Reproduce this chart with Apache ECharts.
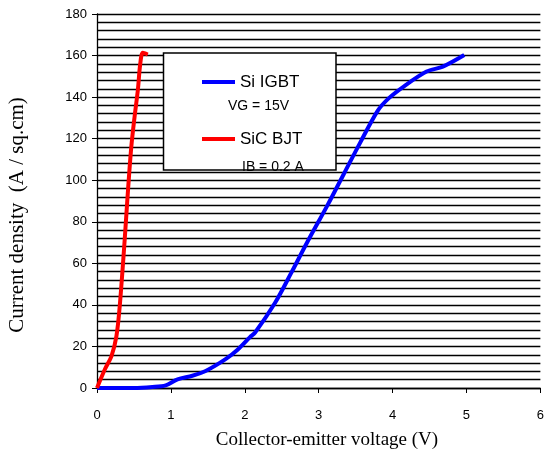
<!DOCTYPE html>
<html>
<head>
<meta charset="utf-8">
<script src="https://cdn.jsdelivr.net/npm/echarts@6/dist/echarts.min.js"></script>
<style>html,body{margin:0;padding:0;background:#fff;}#c{width:547px;height:459px;}</style>
</head>
<body>
<div id="c"></div>
<script>
// Data
const siIgbtX = [0, 0.5, 0.75, 0.93, 1.09, 1.29, 1.47, 1.74, 1.91, 2.07, 2.14, 2.41, 2.63, 2.85, 3.12, 3.34, 3.56, 3.8, 3.95, 4.15, 4.46, 4.68, 4.97];
const siIgbtY = [0, 0, 0.5, 1.3, 4.2, 5.9, 8.2, 13.9, 18.7, 24.5, 26.7, 41, 55.5, 70.5, 88, 103, 118, 133.5, 139.5, 145.1, 152.3, 154.7, 160.3];
const sicBjtX = [0, 0.107, 0.197, 0.263, 0.308, 0.375, 0.42, 0.464, 0.509, 0.553, 0.585, 0.62, 0.687];
const sicBjtY = [0, 9, 15.5, 25, 39.5, 71.5, 95.5, 116, 130.7, 143.5, 156, 161.3, 160.5];
const xTicks = [0, 1, 2, 3, 4, 5, 6];
const yTicks = [0, 20, 40, 60, 80, 100, 120, 140, 160, 180];
const seriesNames = ['Si IGBT', 'SiC BJT'];
const seriesNotes = ['VG = 15V', 'IB = 0.2 A'];
const xTitle = 'Collector-emitter voltage (V)';
const yTitle = 'Current density  (A / sq.cm)';

const zip = (xs, ys) => xs.map((x, i) => [x, ys[i]]);
const chart = echarts.init(document.getElementById('c'), null, {renderer: 'canvas'});
const sans = 'Liberation Sans, Arial, sans-serif';
const serif = 'Liberation Serif, Times New Roman, serif';

chart.setOption({
  animation: false,
  backgroundColor: '#fff',
  grid: {left: 97, right: 2, top: 14, bottom: 71, containLabel: false},
  xAxis: {
    type: 'value', min: xTicks[0], max: xTicks[xTicks.length - 1], interval: 1,
    axisLine: {show: true, lineStyle: {color: '#000', width: 1.3}},
    axisTick: {show: true, length: 5, lineStyle: {color: '#000'}},
    axisLabel: {fontFamily: sans, fontSize: 13, color: '#000', margin: 21},
    splitLine: {show: false}
  },
  yAxis: {
    type: 'value', min: yTicks[0], max: yTicks[yTicks.length - 1], interval: 20,
    axisLine: {show: true, lineStyle: {color: '#000', width: 1.3}},
    axisTick: {show: true, length: 5, lineStyle: {color: '#000'}},
    axisLabel: {fontFamily: sans, fontSize: 13, color: '#000', margin: 10},
    splitLine: {show: true, lineStyle: {color: '#000', width: 1.4}},
    minorTick: {show: false, splitNumber: 5},
    minorSplitLine: {show: true, lineStyle: {color: '#000', width: 1.4}}
  },
  series: [
    {name: seriesNames[0], type: 'line', data: zip(siIgbtX, siIgbtY), showSymbol: false, smooth: 0.3,
     lineStyle: {color: '#0000ff', width: 4}, itemStyle: {color: '#0000ff'}, z: 3},
    {name: seriesNames[1], type: 'line', data: zip(sicBjtX, sicBjtY), showSymbol: false, smooth: 0.3,
     lineStyle: {color: '#ff0000', width: 4}, itemStyle: {color: '#ff0000'}, z: 3}
  ],
  graphic: [
    {type: 'text', x: 327, y: 440, style: {text: xTitle, font: '19px ' + serif, fill: '#000', align: 'center', verticalAlign: 'middle'}},
    {type: 'text', x: 17, y: 215, rotation: Math.PI / 2, style: {text: yTitle, font: '21px ' + serif, fill: '#000', align: 'center', verticalAlign: 'middle'}},
    {type: 'rect', shape: {x: 163.5, y: 53, width: 172.5, height: 117}, style: {fill: '#fff', stroke: null}, z: 10},
    {type: 'line', shape: {x1: 202, y1: 82, x2: 235, y2: 82}, style: {stroke: '#0000ff', lineWidth: 4}, z: 11},
    {type: 'text', x: 240, y: 82, style: {text: seriesNames[0], font: '17px ' + sans, fill: '#000', verticalAlign: 'middle'}, z: 11},
    {type: 'text', x: 228, y: 106, style: {text: seriesNotes[0], font: '14px ' + sans, fill: '#000', verticalAlign: 'middle'}, z: 11},
    {type: 'line', shape: {x1: 202, y1: 139, x2: 235, y2: 139}, style: {stroke: '#ff0000', lineWidth: 4}, z: 11},
    {type: 'text', x: 240, y: 139, style: {text: seriesNames[1], font: '17px ' + sans, fill: '#000', verticalAlign: 'middle'}, z: 11},
    {type: 'text', x: 242, y: 174, style: {text: seriesNotes[1], font: '14px ' + sans, fill: '#000', verticalAlign: 'bottom'}, z: 11},
    {type: 'rect', shape: {x: 163.5, y: 53, width: 172.5, height: 117}, style: {fill: 'none', stroke: '#000', lineWidth: 1.5}, z: 13}
  ]
});
</script>
</body>
</html>
